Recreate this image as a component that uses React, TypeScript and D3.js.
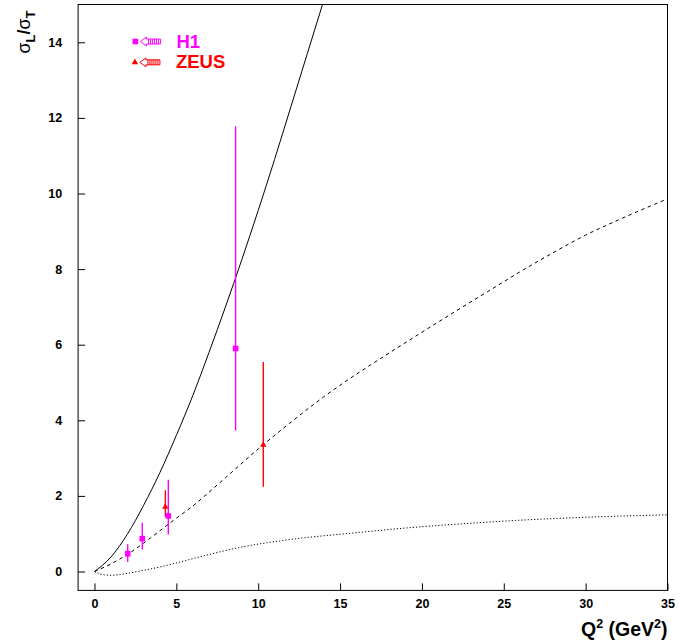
import React, { useEffect, useRef } from 'react';
import * as d3 from 'd3';

// H1 measurements: Q2, sigma_L/sigma_T, lower and upper end of the error bar
const H1_Q2 = [2.03, 2.92, 4.51, 8.62];
const H1_RATIO = [0.47, 0.87, 1.47, 5.9];
const H1_LOW = [0.25, 0.58, 0.98, 3.73];
const H1_HIGH = [0.72, 1.29, 2.43, 11.78];

// ZEUS measurements
const ZEUS_Q2 = [4.33, 10.31];
const ZEUS_RATIO = [1.71, 3.35];
const ZEUS_LOW = [1.45, 2.24];
const ZEUS_HIGH = [2.15, 5.54];

// Model curves
const SOLID_Q2 = [0, 1, 2, 3, 4, 5, 6, 7, 8, 9, 10, 11, 12, 13, 14];
const SOLID_RATIO = [0, 0.38, 0.98, 1.75, 2.62, 3.6, 4.65, 5.8, 7.0, 8.25, 9.55, 10.9, 12.3, 13.7, 15.1];

const DASHED_Q2 = [0, 1, 2, 3, 4, 5, 6, 7, 8, 10, 12, 14, 16, 18, 20, 22, 24, 26, 28, 30, 32, 35];
const DASHED_RATIO = [0, 0.2, 0.45, 0.75, 1.08, 1.41, 1.73, 2.1, 2.48, 3.24, 3.95, 4.62, 5.22, 5.78, 6.33, 6.87, 7.4, 7.93, 8.43, 8.9, 9.3, 9.86];

const DOTTED_Q2 = [0, 0.4, 1.0, 2.0, 3.0, 4.0, 5.4, 7.0, 8.8, 12.2, 15.6, 19, 22.4, 25.7, 29.1, 35];
const DOTTED_RATIO = [0, -0.07, -0.1, -0.05, 0.03, 0.12, 0.27, 0.45, 0.63, 0.86, 1.01, 1.15, 1.26, 1.35, 1.42, 1.5];

const X_TICKS = [0, 5, 10, 15, 20, 25, 30, 35];
const Y_TICKS = [0, 2, 4, 6, 8, 10, 12, 14];

const FONT = '"Liberation Sans", Arial, Helvetica, sans-serif';
const H1_COLOR = '#ff00ff';
const ZEUS_COLOR = '#ff0000';

export default function App () {
  const ref = useRef<SVGSVGElement>(null);

  useEffect(() => {
    const svg = d3.select(ref.current);
    svg.selectAll('*').remove();

    const x = d3.scaleLinear().domain([-1, 35]).range([78.1, 667.5]);
    const y = d3.scaleLinear().domain([-0.5, 15]).range([590.4, 4.5]);

    svg.append('defs').append('clipPath').attr('id', 'plot-clip')
      .append('rect')
      .attr('x', x(-1)).attr('y', y(15))
      .attr('width', x(35) - x(-1)).attr('height', y(-0.5) - y(15));

    // Axes, ticks pointing inwards
    const xAxis = svg.append('g')
      .attr('transform', `translate(0,${y(-0.5)})`)
      .call(d3.axisBottom(x).tickValues(X_TICKS).tickSizeInner(-7).tickSizeOuter(0).tickPadding(9));
    xAxis.select('.domain').remove();

    const yAxis = svg.append('g')
      .attr('transform', `translate(${x(-1)},0)`)
      .call(d3.axisLeft(y).tickValues(Y_TICKS).tickSizeInner(-7).tickSizeOuter(0).tickPadding(16));
    yAxis.select('.domain').remove();

    svg.selectAll('.tick text')
      .style('font-family', FONT)
      .style('font-size', '12.5px')
      .style('font-weight', 'bold')
      .attr('fill', '#000');
    svg.selectAll('.tick line').attr('stroke', '#000');

    // Frame
    svg.append('rect')
      .attr('x', x(-1)).attr('y', y(15))
      .attr('width', x(35) - x(-1)).attr('height', y(-0.5) - y(15))
      .attr('fill', 'none').attr('stroke', '#000').attr('stroke-width', 1);

    // Curves
    const line = d3.line<[number, number]>()
      .x(d => x(d[0]))
      .y(d => y(d[1]))
      .curve(d3.curveMonotoneX);

    const curves = [
      { qs: SOLID_Q2, rs: SOLID_RATIO, dash: null },
      { qs: DASHED_Q2, rs: DASHED_RATIO, dash: '3.5,3.5' },
      { qs: DOTTED_Q2, rs: DOTTED_RATIO, dash: '1.2,2' }
    ];
    const plot = svg.append('g').attr('clip-path', 'url(#plot-clip)');
    curves.forEach(c => {
      plot.append('path')
        .datum(c.qs.map((q, i) => [q, c.rs[i]] as [number, number]))
        .attr('d', line)
        .attr('fill', 'none')
        .attr('stroke', '#000')
        .attr('stroke-width', 1)
        .attr('stroke-dasharray', c.dash);
    });

    // Error bars
    const bars = (qs: number[], lo: number[], hi: number[], color: string) => {
      plot.append('g').selectAll('line')
        .data(qs)
        .enter()
        .append('line')
        .attr('x1', d => x(d)).attr('x2', d => x(d))
        .attr('y1', (d, i) => y(lo[i])).attr('y2', (d, i) => y(hi[i]))
        .attr('stroke', color)
        .attr('stroke-width', 1.4);
    };
    bars(ZEUS_Q2, ZEUS_LOW, ZEUS_HIGH, ZEUS_COLOR);
    bars(H1_Q2, H1_LOW, H1_HIGH, H1_COLOR);

    const tri = d3.symbol().type(d3.symbolTriangle).size(18);

    plot.append('g').selectAll('path')
      .data(ZEUS_Q2)
      .enter()
      .append('path')
      .attr('d', tri)
      .attr('transform', (d, i) => `translate(${x(d)},${y(ZEUS_RATIO[i])})`)
      .attr('fill', ZEUS_COLOR);

    plot.append('g').selectAll('rect')
      .data(H1_Q2)
      .enter()
      .append('rect')
      .attr('x', d => x(d) - 2.8)
      .attr('y', (d, i) => y(H1_RATIO[i]) - 2.8)
      .attr('width', 5.6)
      .attr('height', 5.6)
      .attr('fill', H1_COLOR);

    // Legend: marker, hatched arrow, label
    const legend = [
      { label: 'H1', color: H1_COLOR, q: 2.5, r: 14.02, square: true },
      { label: 'ZEUS', color: ZEUS_COLOR, q: 2.47, r: 13.47, square: false }
    ];
    legend.forEach(e => {
      const g = svg.append('g').attr('transform', `translate(${x(e.q)},${y(e.r)})`);
      if (e.square) {
        g.append('rect').attr('x', -2.8).attr('y', -2.8).attr('width', 5.6).attr('height', 5.6)
          .attr('fill', e.color);
      } else {
        g.append('path').attr('d', tri).attr('fill', e.color);
      }
      g.append('path')
        .attr('d', 'M5,0 L11,-4.5 L11,-2.5 L25,-2.5 L25,2.5 L11,2.5 L11,4.5 Z')
        .attr('fill', '#fff')
        .attr('stroke', e.color)
        .attr('stroke-width', 1);
      d3.range(13, 25, 2).forEach(sx => {
        g.append('line').attr('x1', sx).attr('x2', sx).attr('y1', -2.5).attr('y2', 2.5)
          .attr('stroke', e.color).attr('stroke-width', 1);
      });
      g.append('text')
        .attr('x', 41)
        .attr('y', 6)
        .style('font-family', FONT)
        .style('font-size', '18.5px')
        .style('font-weight', 'bold')
        .attr('fill', e.color)
        .text(e.label);
    });

    // Axis titles
    const xt = svg.append('text')
      .attr('x', x(35))
      .attr('y', 636)
      .attr('text-anchor', 'end')
      .style('font-family', FONT)
      .style('font-size', '19.5px')
      .style('font-weight', 'bold');
    xt.append('tspan').text('Q');
    xt.append('tspan').attr('dy', -8).style('font-size', '12.5px').text('2');
    xt.append('tspan').attr('dy', 8).text(' (GeV');
    xt.append('tspan').attr('dy', -8).style('font-size', '12.5px').text('2');
    xt.append('tspan').attr('dy', 8).text(')');

    const yt = svg.append('text')
      .attr('transform', 'translate(30,32) rotate(-90)')
      .attr('text-anchor', 'middle')
      .style('font-family', FONT)
      .style('font-size', '18px');
    yt.append('tspan').text('σ');
    yt.append('tspan').attr('dy', 5).style('font-size', '13px').style('font-weight', 'bold').text('L');
    yt.append('tspan').attr('dy', -5).style('font-weight', 'bold').text('/');
    yt.append('tspan').text('σ');
    yt.append('tspan').attr('dy', 5).style('font-size', '13px').style('font-weight', 'bold').text('T');
  }, []);

  return (
    <svg
      ref={ref}
      width={694}
      height={644}
      style={{ position: 'absolute', left: 0, top: 0, background: '#fff' }}
    />
  );
}
